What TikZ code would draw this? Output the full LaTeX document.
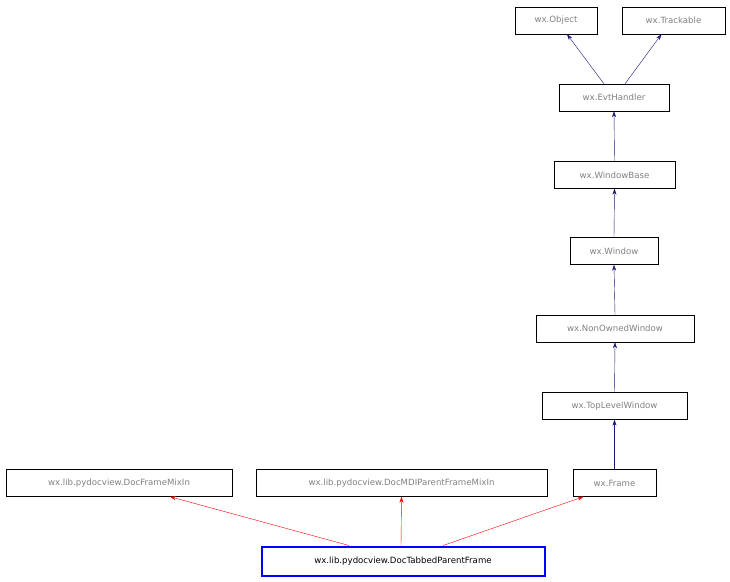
\documentclass[tikz,border=0pt]{standalone}
\usepackage{fontspec}
\setmainfont{DejaVu Sans}
\usetikzlibrary{arrows.meta,positioning}
\definecolor{inh}{HTML}{191970}
\begin{document}
\begin{tikzpicture}[x=1pt,y=-1pt,
    cls/.style={draw,rectangle,inner sep=0pt,minimum height=27pt,text=gray,font=\fontsize{8.6}{10}\selectfont},
    up/.style={draw=inh,-{Stealth[length=6pt,width=4pt]}},
    mix/.style={draw=red,-{Stealth[length=6pt,width=4pt]}}]
  \useasboundingbox (0,0) rectangle (730,581);
  \node[cls,minimum width=82pt] (obj) at (556,20.5) {wx.Object};
  \node[cls,minimum width=103pt] (track) at (673.5,20.5) {wx.Trackable};
  \node[cls,minimum width=110pt] (evt) at (614,97.5) {wx.EvtHandler};
  \node[cls,minimum width=121pt] (wbase) at (614.5,175) {wx.WindowBase};
  \node[cls,minimum width=88pt] (win) at (614,251) {wx.Window};
  \node[cls,minimum width=158pt] (now) at (615,328.5) {wx.NonOwnedWindow};
  \node[cls,minimum width=145pt] (tlw) at (614.5,406) {wx.TopLevelWindow};
  \node[cls,minimum width=83pt] (frame) at (614.5,483) {wx.Frame};
  \node[cls,minimum width=226pt] (dfm) at (119,483) {wx.lib.pydocview.DocFrameMixIn};
  \node[cls,minimum width=291pt] (mdi) at (401.5,483) {wx.lib.pydocview.DocMDIParentFrameMixIn};
  \node[cls,draw=blue,line width=2pt,text=black,minimum width=283pt,minimum height=29pt] (tab) at (403,561) {wx.lib.pydocview.DocTabbedParentFrame};
  % inheritance
  \draw[up] ([xshift=-10pt]evt.north) -- ([xshift=11pt]obj.south);
  \draw[up] ([xshift=11pt]evt.north) -- ([xshift=-12pt]track.south);
  \draw[up] (wbase.north) -- (evt.south);
  \draw[up] (win.north) -- (wbase.south);
  \draw[up] (now.north) -- (win.south);
  \draw[up] (tlw.north) -- (now.south);
  \draw[up] (frame.north) -- (tlw.south);
  % mixins
  \draw[mix] ([xshift=-54pt]tab.north) -- ([xshift=51pt]dfm.south);
  \draw[mix] ([xshift=-2pt]tab.north) -- (mdi.south);
  \draw[mix] ([xshift=40pt]tab.north) -- ([xshift=-31pt]frame.south);
\end{tikzpicture}
\end{document}
